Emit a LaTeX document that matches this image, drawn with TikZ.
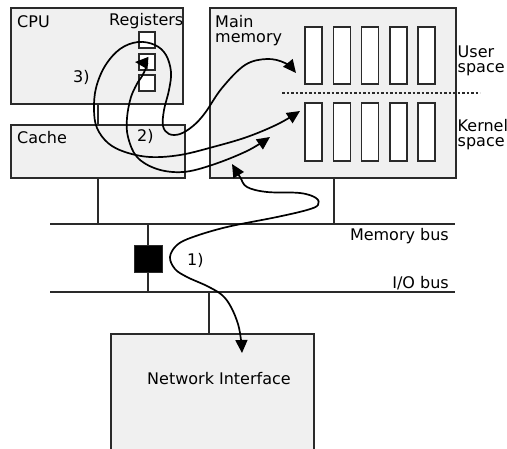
\documentclass[tikz,border=0pt]{standalone}
\usepackage{fontspec}
\setmainfont{DejaVu Sans}
\usetikzlibrary{arrows.meta}
\definecolor{boxfill}{HTML}{F0F0F0}
\definecolor{edge}{HTML}{2A2A2A}
\begin{document}
\begin{tikzpicture}[x=1pt,y=-1pt,
  box/.style={draw=edge, fill=boxfill, line width=1.5pt, inner sep=0pt},
  cell/.style={draw=edge, fill=white, line width=1.5pt, inner sep=0pt},
  wire/.style={draw=edge, line width=1.5pt},
  flow/.style={line width=1.7pt, line join=round,
    {Triangle[length=13pt,width=12pt]}-{Triangle[length=13pt,width=12pt]}},
  lbl/.style={inner sep=0pt, font=\fontsize{16}{15}\selectfont}]

\useasboundingbox (0,0) rectangle (507,448);

% hardware blocks
\node[box, minimum width=172pt, minimum height=96pt] (cpu) at (97,56) {};
\node[box, minimum width=174pt, minimum height=53pt] (cache) at (98,151.5) {};
\node[box, minimum width=246pt, minimum height=170pt] (mem) at (333,93) {};
\node[box, minimum width=203pt, minimum height=120pt, anchor=north] (ni) at (212.5,333) {};

% registers
\node[cell, minimum size=16pt] (r1) at (147,40) {};
\node[cell, minimum size=16pt] (r2) at (147,62) {};
\node[cell, minimum size=16pt] (r3) at (147,83) {};

% memory pages: user space above, kernel space below
\foreach \i in {0,...,4} {
  \node[cell, minimum width=17pt, minimum height=57pt] (u\i) at ({313.5+28.25*\i},55.5) {};
  \node[cell, minimum width=17pt, minimum height=58pt] (k\i) at ({313.5+28.25*\i},132) {};
}
\draw[draw=edge, line width=1.4pt, dash pattern=on 2.5pt off 2pt] (282,93) -- (480,93);

% buses
\coordinate (mbL) at (50,224);
\coordinate (mbR) at (455,224);
\coordinate (ioL) at (50,292);
\coordinate (ioR) at (455,292);
\draw[wire] (mbL) -- (mbR);
\draw[wire] (ioL) -- (ioR);

% bus bridge
\node[fill=black, draw=edge, line width=1pt, minimum width=28pt, minimum height=27pt, inner sep=0pt] (bridge) at (148,258.5) {};
\draw[wire] (bridge.north) -- (bridge.north |- mbL);
\draw[wire] (bridge.south) -- (bridge.south |- ioL);

% attachments
\draw[wire] (cpu.south -| cache.north) -- (cache.north);
\draw[wire] (cache.south) -- (cache.south |- mbL);
\draw[wire] ([xshift=1pt]mem.south) -- ([xshift=1pt]mem.south |- mbL);
\draw[wire] ([xshift=-3.5pt]ni.north) -- ([xshift=-3.5pt]ni.north |- ioL);

% labels
\node[lbl, anchor=base west] (cpulbl) at (17,27) {CPU};
\node[lbl, anchor=base east] (reglbl) at (183.5,25) {Registers};
\node[lbl, anchor=north west, align=left] (memlbl) at (215,14.8) {Main\\memory};
\node[lbl, anchor=north west, align=left] (userlbl) at (457.5,45.3) {User\\space};
\node[lbl, anchor=north west, align=left] (kernlbl) at (457.5,118.8) {Kernel\\space};
\node[lbl, anchor=base west] (cachelbl) at (17,143) {Cache};
\node[lbl, anchor=base west] (step3) at (73,82) {3)};
\node[lbl, anchor=base west] (step2) at (137,141) {2)};
\node[lbl, anchor=base west] (step1) at (187,265) {1)};
\node[lbl, anchor=base east] (mblbl) at (449,240) {Memory bus};
\node[lbl, anchor=base east] (iolbl) at (449,288) {I/O bus};
\node[lbl, anchor=base] (nilbl) at (219,384) {Network Interface};

% data paths
\coordinate (userin) at (296,73);
\coordinate (kernin) at (300,111);
\coordinate (kernin2) at (270,137);
\coordinate (regin) at (135,62);
\coordinate (memin) at (232,164);
\coordinate (niin) at (242,353);

\draw[flow] plot[smooth, tension=0.6] coordinates {(userin) (285,63) (267,59) (245,65) (222,88) (205,113) (193,126) (180,134) (169,134) (163,126) (164,110) (169,90) (171,72) (166,55) (155,45) (138,42) (120,49) (105,66) (96,88) (94,110) (97,128) (108,143) (125,152) (150,157) (180,155) (213,147) (247,137) (278,124) (kernin)};

\draw[flow] (regin) .. controls (147,63) and (146,72) .. (138,82)
  -- plot[smooth, tension=0.6] coordinates {(138,82) (131,97) (127,118) (128,137) (137,157) (157,169) (183,172) (212,165) (247,151) (kernin2)};

\draw[flow] plot[smooth, tension=0.6] coordinates {(memin) (240,177) (247,187) (267,192) (300,193) (316,198) (318,205) (307,210) (277,217) (227,227) (193,237) (177,245) (170,257) (175,269) (187,277) (207,286) (222,295) (231,307) (238,324) (241,340) (niin)};
\end{tikzpicture}
\end{document}
